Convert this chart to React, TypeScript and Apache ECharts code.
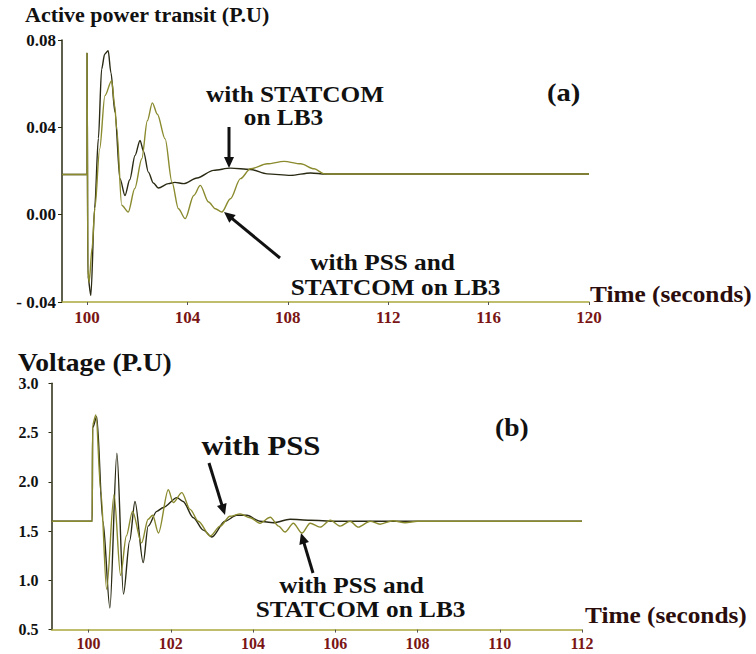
import React, { useEffect, useRef } from 'react';
import * as echarts from 'echarts';

const FONT = '"Liberation Serif", "Times New Roman", serif';

// Tick labels
const topTicks = [100, 104, 108, 112, 116, 120];
const bottomTicks = [100, 102, 104, 106, 108, 110, 112];

// (a) Active power transit (P.U)
const activeStatcom: [number, number][] = [
  [99, 0.0184], [100, 0.0184], [100, 0.074], [100.03, -0.028], [100.15, -0.037],
  [100.3, 0.003], [100.45, 0.035], [100.58, 0.0667], [100.7, 0.0735], [100.84, 0.0751],
  [100.95, 0.065], [101.11, 0.047], [101.31, 0.0165], [101.51, 0.0088], [101.7, 0.016],
  [101.91, 0.0271], [102.11, 0.034], [102.25, 0.029], [102.44, 0.0195], [102.64, 0.0145],
  [102.84, 0.0122], [103.24, 0.0142], [103.5, 0.0148], [103.85, 0.0142], [104.38, 0.0168],
  [105.04, 0.0203], [105.71, 0.0213], [106.51, 0.0207], [107.18, 0.0187], [108.11, 0.018],
  [108.91, 0.0191], [109.5, 0.0186], [120, 0.0186],
];
const activePssStatcom: [number, number][] = [
  [99, 0.0184], [100, 0.0184], [100, 0.074], [100.03, -0.025], [100.08, -0.031],
  [100.2, -0.015], [100.31, 0.003], [100.5, 0.03], [100.71, 0.0545], [100.98, 0.0614],
  [101.1, 0.05], [101.18, 0.0393], [101.38, 0.0043], [101.64, 0.0012], [101.9, 0.012],
  [102.18, 0.0256], [102.4, 0.043], [102.6, 0.0512], [102.8, 0.046], [103.11, 0.0347],
  [103.38, 0.015], [103.64, 0.0027], [103.91, -0.0018], [104.25, 0.0088], [104.51, 0.0134],
  [104.84, 0.0058], [105.11, 0.0027], [105.37, 0.0012], [105.71, 0.0073], [106.11, 0.0165],
  [106.51, 0.021], [107.18, 0.0233], [107.85, 0.0244], [108.51, 0.0233], [109.05, 0.021],
  [109.45, 0.0187], [110, 0.0186], [120, 0.0186],
];

// (b) Voltage (P.U)
const voltagePss: [number, number][] = [
  [99.1, 1.6], [100.09, 1.6], [100.1, 2.55], [100.2, 2.66], [100.35, 1.6], [100.52, 0.72],
  [100.69, 2.29], [100.85, 0.86], [101.0, 1.4], [101.13, 1.8], [101.33, 1.18], [101.45, 1.55],
  [101.66, 1.7], [101.82, 1.74], [102.15, 1.84], [102.3, 1.8], [102.55, 1.635], [102.79, 1.51],
  [103.0, 1.44], [103.32, 1.6], [103.6, 1.66], [103.85, 1.66], [104.17, 1.6], [104.5, 1.585],
  [104.9, 1.62], [105.39, 1.61], [106, 1.6], [112, 1.6],
];
const voltagePssStatcom: [number, number][] = [
  [99.1, 1.6], [100.09, 1.6], [100.1, 2.58], [100.18, 2.68], [100.3, 1.9], [100.44, 0.91],
  [100.62, 1.87], [100.78, 1.05], [100.92, 1.45], [101.07, 1.7], [101.29, 1.38], [101.45, 1.62],
  [101.56, 1.66], [101.7, 1.48], [101.94, 1.92], [102.06, 1.79], [102.27, 1.89], [102.47, 1.72],
  [102.67, 1.6], [102.96, 1.45], [103.2, 1.55], [103.44, 1.65], [103.69, 1.675], [103.93, 1.635],
  [104.17, 1.58], [104.42, 1.64], [104.62, 1.55], [104.78, 1.49], [104.98, 1.58], [105.19, 1.48],
  [105.39, 1.58], [105.63, 1.54], [105.88, 1.61], [106.12, 1.55], [106.36, 1.6], [106.56, 1.54],
  [106.85, 1.6], [107.09, 1.57], [107.4, 1.605], [107.7, 1.585], [108.0, 1.6], [112, 1.6],
];

const SX = 1.1;

function txt(text: string, x: number, baseline: number, size: number, align = 'left', fill = '#111', scaleX = SX) {
  return {
    type: 'text',
    x,
    y: baseline - 0.35 * size,
    scaleX,
    style: {
      text,
      x: 0,
      y: 0,
      fontFamily: FONT,
      fontWeight: 'bold',
      fontSize: size,
      fill,
      align,
      verticalAlign: 'middle',
    },
  };
}

function arrow(x1: number, y1: number, x2: number, y2: number) {
  const dx = x2 - x1;
  const dy = y2 - y1;
  const len = Math.sqrt(dx * dx + dy * dy);
  const ux = dx / len;
  const uy = dy / len;
  const hl = 11;
  const hw = 5;
  const bx = x2 - ux * hl;
  const by = y2 - uy * hl;
  const px = -uy;
  const py = ux;
  return [
    { type: 'line', shape: { x1, y1, x2: bx + ux * 2, y2: by + uy * 2 }, style: { stroke: '#111', lineWidth: 3 } },
    {
      type: 'polygon',
      shape: { points: [[x2, y2], [bx + px * hw, by + py * hw], [bx - px * hw, by - py * hw]] },
      style: { fill: '#111' },
    },
  ];
}

const tickLabelStyle = {
  fontFamily: FONT,
  fontWeight: 'bold' as const,
  color: '#7a1515',
};

export default function App() {
  const ref = useRef<HTMLDivElement>(null);
  useEffect(() => {
    const chart = echarts.init(ref.current!, null, { renderer: 'svg' });
    const option: any = {
      animation: false,
      backgroundColor: '#fff',
      grid: [
        { left: 62, top: 40, width: 527, height: 262 },
        { left: 51.5, top: 383.3, width: 530.5, height: 246.3 },
      ],
      xAxis: [
        {
          gridIndex: 0, type: 'value', min: 99, max: 120,
          axisLine: { show: true, onZero: false, lineStyle: { color: '#a9a93c', width: 1.5 } },
          axisTick: { show: true, length: 3, customValues: topTicks, lineStyle: { color: '#555' } },
          axisLabel: { customValues: topTicks, fontSize: 17, margin: 7, ...tickLabelStyle },
          splitLine: { show: false },
        },
        {
          gridIndex: 1, type: 'value', min: 99.1, max: 112,
          axisLine: { show: true, onZero: false, lineStyle: { color: '#a9a93c', width: 1.5 } },
          axisTick: { show: true, length: 3, customValues: bottomTicks, lineStyle: { color: '#555' } },
          axisLabel: { customValues: bottomTicks, fontSize: 16, margin: 6, ...tickLabelStyle },
          splitLine: { show: false },
        },
      ],
      yAxis: [
        {
          gridIndex: 0, type: 'value', min: -0.04, max: 0.08, interval: 0.04,
          axisLine: { show: true, onZero: false, lineStyle: { color: '#2a2a12', width: 1.5 } },
          axisTick: { show: true, length: 4, lineStyle: { color: '#2a2a12' } },
          axisLabel: {
            fontSize: 17, margin: 6, fontFamily: FONT, fontWeight: 'bold', color: '#111',
            formatter: (v: number) => (v < -0.001 ? '- ' + Math.abs(v).toFixed(2) : Math.abs(v) < 0.001 ? '0.00' : v.toFixed(2)),
          },
          splitLine: { show: false },
        },
        {
          gridIndex: 1, type: 'value', min: 0.5, max: 3.0, interval: 0.5,
          axisLine: { show: true, onZero: false, lineStyle: { color: '#2a2a12', width: 1.5 } },
          axisTick: { show: true, length: 3, lineStyle: { color: '#2a2a12' } },
          axisLabel: {
            fontSize: 16, margin: 13, fontFamily: FONT, fontWeight: 'bold', color: '#111',
            formatter: (v: number) => v.toFixed(1),
          },
          splitLine: { show: false },
        },
      ],
      series: [
        {
          name: 'with STATCOM on LB3', type: 'line', xAxisIndex: 0, yAxisIndex: 0,
          data: activeStatcom, showSymbol: false, smooth: 0.3, smoothMonotone: 'x',
          lineStyle: { color: '#2a2a14', width: 1.4 },
        },
        {
          name: 'with PSS and STATCOM on LB3', type: 'line', xAxisIndex: 0, yAxisIndex: 0,
          data: activePssStatcom, showSymbol: false, smooth: 0.3, smoothMonotone: 'x',
          lineStyle: { color: '#8a8a2e', width: 1.4 },
        },
        {
          name: 'with PSS', type: 'line', xAxisIndex: 1, yAxisIndex: 1,
          data: voltagePss, showSymbol: false, smooth: 0.3, smoothMonotone: 'x',
          lineStyle: { color: '#2a2a14', width: 1.4 },
        },
        {
          name: 'with PSS and STATCOM on LB3 (b)', type: 'line', xAxisIndex: 1, yAxisIndex: 1,
          data: voltagePssStatcom, showSymbol: false, smooth: 0.3, smoothMonotone: 'x',
          lineStyle: { color: '#8a8a2e', width: 1.4 },
        },
      ],
      graphic: [
        txt('Active power transit (P.U)', 25, 22.7, 20),
        txt('(a)', 547, 102, 26),
        txt('with STATCOM', 295, 101.7, 23, 'center'),
        txt('on LB3', 283.5, 125, 23, 'center'),
        txt('with PSS and', 382.5, 270, 23, 'center'),
        txt('STATCOM on LB3', 395.5, 295, 23, 'center'),
        txt('Time (seconds)', 590, 302, 23, 'left', '#2b0d0d'),
        txt('Voltage (P.U)', 18, 372, 25),
        txt('(b)', 495, 437, 25),
        txt('with PSS', 261, 455, 28, 'center'),
        txt('with PSS and', 351.5, 593, 23, 'center'),
        txt('STATCOM on LB3', 360.5, 617, 23, 'center'),
        txt('Time (seconds)', 585, 623, 23, 'left', '#2b0d0d'),
        ...arrow(229, 127, 229, 168),
        ...arrow(280, 258, 224, 212),
        ...arrow(209, 463, 225, 515),
        ...arrow(313, 573, 301, 533),
      ],
    };
    chart.setOption(option);
    return () => chart.dispose();
  }, []);
  return <div ref={ref} style={{ position: 'absolute', left: 0, top: 0, width: 756, height: 654 }} />;
}
